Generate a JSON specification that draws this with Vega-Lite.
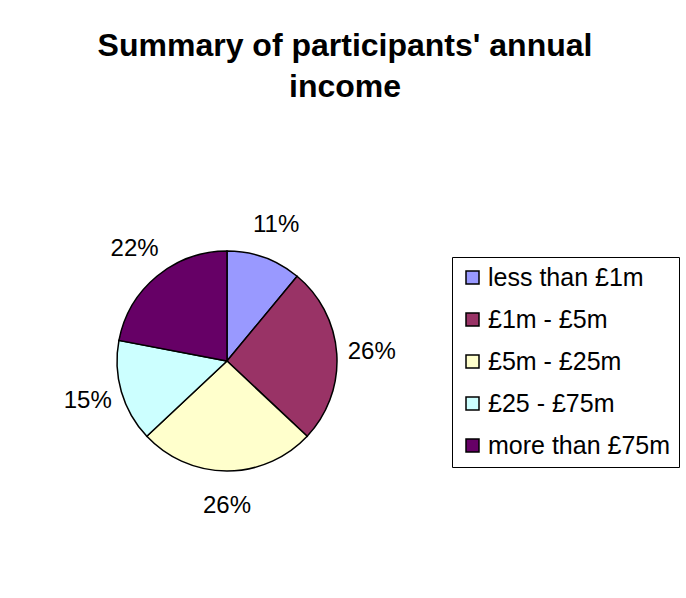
{
  "$schema": "https://vega.github.io/schema/vega-lite/v6.json",
  "autosize": {"type": "none"},
  "padding": {"left": 0, "top": 0, "right": 232, "bottom": 0},
  "width": 454,
  "height": 722,
  "background": "white",
  "config": {"view": {"stroke": null}, "font": "Liberation Sans"},
  "title": {
    "text": ["Summary of participants' annual", "income"],
    "fontSize": 32,
    "fontWeight": "bold",
    "font": "Liberation Sans",
    "color": "black",
    "lineHeight": 41,
    "anchor": "middle",
    "frame": "group",
    "dx": 118,
    "offset": -104
  },
  "data": {
    "values": [
      {"income": "less than £1m", "share": 0.11, "rank": 1},
      {"income": "£1m - £5m", "share": 0.26, "rank": 2},
      {"income": "£5m - £25m", "share": 0.26, "rank": 3},
      {"income": "£25 - £75m", "share": 0.15, "rank": 4},
      {"income": "more than £75m", "share": 0.22, "rank": 5}
    ]
  },
  "encoding": {
    "theta": {"field": "share", "type": "quantitative", "stack": true},
    "order": {"field": "rank", "type": "quantitative"}
  },
  "layer": [
    {
      "mark": {"type": "arc", "outerRadius": 110, "stroke": "black", "strokeWidth": 1.5},
      "encoding": {
        "color": {
          "field": "income",
          "type": "nominal",
          "scale": {
            "domain": ["less than £1m", "£1m - £5m", "£5m - £25m", "£25 - £75m", "more than £75m"],
            "range": ["#9999FF", "#993366", "#FFFFCC", "#CCFFFF", "#660066"]
          },
          "legend": {
            "title": null,
            "orient": "none",
            "legendX": 452,
            "legendY": 257,
            "padding": 8,
            "strokeColor": "black",
            "fillColor": "white",
            "symbolType": "square",
            "symbolSize": 169,
            "symbolStrokeColor": "black",
            "symbolStrokeWidth": 1.5,
            "labelFontSize": 25,
            "labelFont": "Liberation Sans",
            "labelColor": "black",
            "labelOffset": 3,
            "rowPadding": 16,
            "labelLimit": 300
          }
        }
      }
    },
    {
      "mark": {"type": "text", "radius": 145, "fontSize": 24, "font": "Liberation Sans", "color": "black"},
      "encoding": {
        "text": {"field": "share", "type": "quantitative", "format": ".0%"}
      }
    }
  ]
}
